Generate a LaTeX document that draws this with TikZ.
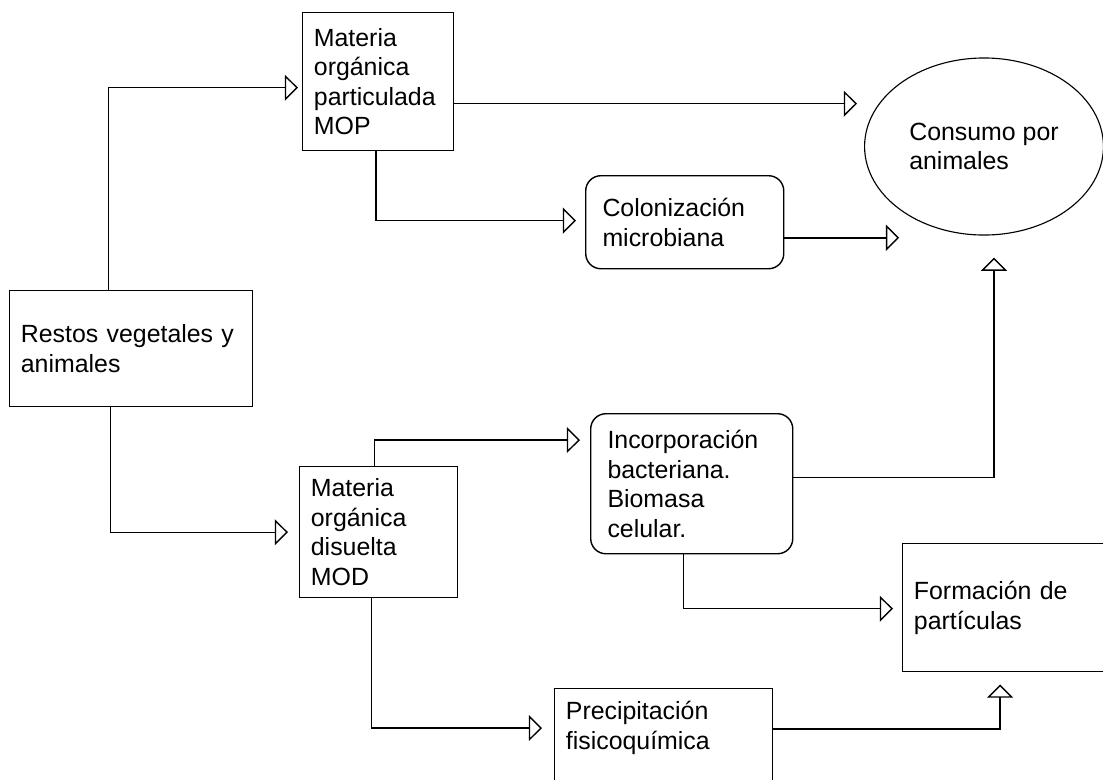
\documentclass[tikz,border=0pt]{standalone}
\usepackage{fontspec}
\setmainfont{Liberation Sans}
\usetikzlibrary{arrows.meta,shapes.geometric}

\begin{document}
\begin{tikzpicture}[x=0.025cm, y=-0.025cm,
  node font=\fontsize{17.7}{21}\selectfont,
  box/.style={draw, line width=1pt, anchor=north west, align=left,
    inner xsep=0.28cm, inner ysep=0pt},
  roundbox/.style={box, rounded corners=0.38cm, inner xsep=0.42cm},
  flow/.style={line width=1pt, -{Triangle[open, length=0.33cm, width=0.65cm]}}]
  \clip (0,0) rectangle (1103,779);
  % sources
  \node [box, text width=5.515cm, minimum height=2.9cm] (restos) at (9,290)
    {Restos vegetales y\\animales};
  \node [box, text width=3.215cm, minimum height=3.45cm] (mop) at (302,12)
    {Materia\\orgánica\\particulada\\MOP};
  \node [box, text width=3.39cm, minimum height=3.275cm] (mod) at (299,466)
    {Materia\\orgánica\\disuelta\\MOD};
  % processes
  \node [roundbox, text width=4.11cm, minimum height=2.325cm] (colon) at (585,175)
    {Colonización\\microbiana};
  \node [roundbox, text width=4.21cm, minimum height=3.5cm] (incorp) at (590,413)
    {Incorporación\\bacteriana.\\Biomasa\\celular.};
  \node [box, text width=4.89cm, text height=0.775cm, text depth=2.5cm] (precip) at (554,688)
    {Precipitación\\fisicoquímica};
  % fates
  \node [draw, ellipse, line width=0.8pt, minimum width=5.97cm, minimum height=4.425cm,
    inner sep=0pt, align=left] (consumo) at (984,146.5) {Consumo por\\animales};
  \node [box, text width=5.39cm, minimum height=3.2cm] (formacion) at (902,543)
    {Formación de\\partículas};
  % flows
  \draw [flow, shorten >=0.1cm] ([xshift=-0.5625cm]restos.north) |- ([yshift=-0.15cm]mop.west);
  \draw [flow, shorten >=0.275cm] ([xshift=-0.525cm]restos.south) |- (mod.west);
  \draw [flow, shorten >=0.175cm] ([yshift=-0.55cm]mop.east) coordinate (mopout)
    -- (mopout -| consumo.west);
  \draw [flow, shorten >=0.225cm] ([xshift=-0.06cm]mop.south) |- ([yshift=0.04cm]colon.west);
  \draw [flow] ([yshift=-0.39cm]colon.east) coordinate (colout) -- (colout -| consumo.south west);
  \draw [flow, shorten >=0.25cm] ([xshift=-0.1cm]mod.north) |- ([yshift=-0.675cm]incorp.north west);
  \draw [flow, shorten >=0.55cm] ([yshift=0.15cm]incorp.east) -| ([xshift=0.25cm]consumo.south);
  \draw [flow, shorten >=0.225cm] ([xshift=-0.2cm]incorp.south) |- ([yshift=-0.025cm]formacion.west);
  \draw [flow, shorten >=0.3cm] ([xshift=-0.175cm]mod.south) |- ([yshift=-1cm]precip.north west);
  \draw [flow, shorten >=0.3cm] ([yshift=-1.025cm]precip.north east)
    -| ([xshift=2.45cm]formacion.south west);
\end{tikzpicture}
\end{document}
